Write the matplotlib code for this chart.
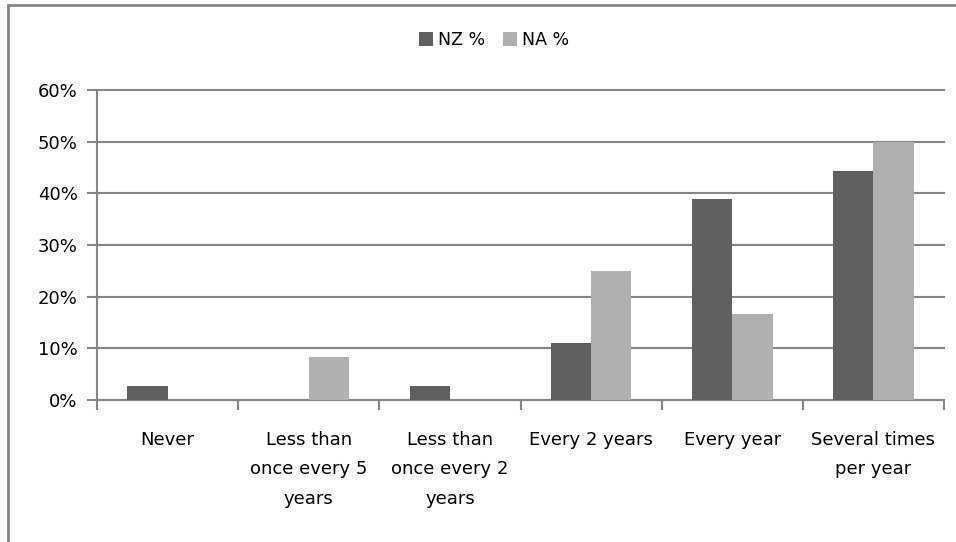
import matplotlib.pyplot as plt
import numpy as np
from matplotlib.patches import Rectangle
from matplotlib.ticker import FuncFormatter, FixedLocator

categories = ['Never', 'Less than\nonce every 5\nyears', 'Less than\nonce every 2\nyears',
              'Every 2 years', 'Every year', 'Several times\nper year']
nz_pct = [2.8, 0.0, 2.8, 11.1, 38.9, 44.4]
na_pct = [0.0, 8.3, 0.0, 25.0, 16.7, 50.0]

dark = '#606060'
light = '#b0b0b0'
axis_grey = '#868686'

plt.rcParams['font.family'] = ['DejaVu Sans']

fig = plt.figure(figsize=(9.56, 5.42), dpi=100)
ax = fig.add_axes([97 / 956, 1 - 400 / 542, (944 - 97) / 956, 310 / 542])

x = np.arange(len(categories))
w = 1 / 3.5
ax.bar(x - w / 2, nz_pct, w, color=dark, label='NZ %', zorder=3)
ax.bar(x + w / 2, na_pct, w, color=light, label='NA %', zorder=3)

ax.set_xlim(-0.5, len(categories) - 0.5)
ax.set_ylim(0, 60)
ax.set_yticks(range(0, 61, 10))
ax.yaxis.set_major_formatter(FuncFormatter(lambda v, p: f'{v:.0f}%'))
ax.yaxis.grid(True, color=axis_grey, linewidth=1.5, zorder=0)
for gl in ax.get_ygridlines():
    gl.set_clip_on(False)

ax.xaxis.set_major_locator(FixedLocator(np.arange(-0.5, len(categories), 1)))
ax.set_xticklabels([])
ax.xaxis.set_minor_locator(FixedLocator(x))
ax.set_xticklabels(categories, minor=True, fontsize=13, linespacing=1.85,
                   va='top', ha='center')
ax.tick_params(axis='x', which='minor', length=0, pad=22)
ax.tick_params(axis='x', which='major', length=7, width=1.5, color=axis_grey)
ax.tick_params(axis='y', length=7, width=1.5, color=axis_grey, labelsize=13, pad=7)

for s in ['top', 'right']:
    ax.spines[s].set_visible(False)
for s in ['left', 'bottom']:
    ax.spines[s].set_color(axis_grey)
    ax.spines[s].set_linewidth(1.5)

ax.legend(loc='center', bbox_to_anchor=(494 / 956, 1 - 40 / 542),
          bbox_transform=fig.transFigure, ncol=2, frameon=False, fontsize=12.5,
          handlelength=0.8, handleheight=0.8, handletextpad=0.3, columnspacing=1.0)

fig.patches.append(Rectangle((8 / 956, -0.05), 1.1, 1 - 5 / 542 + 0.05,
                             transform=fig.transFigure, fill=False,
                             edgecolor=axis_grey, linewidth=2))

fig.savefig('out.png', dpi=100, facecolor='white')
